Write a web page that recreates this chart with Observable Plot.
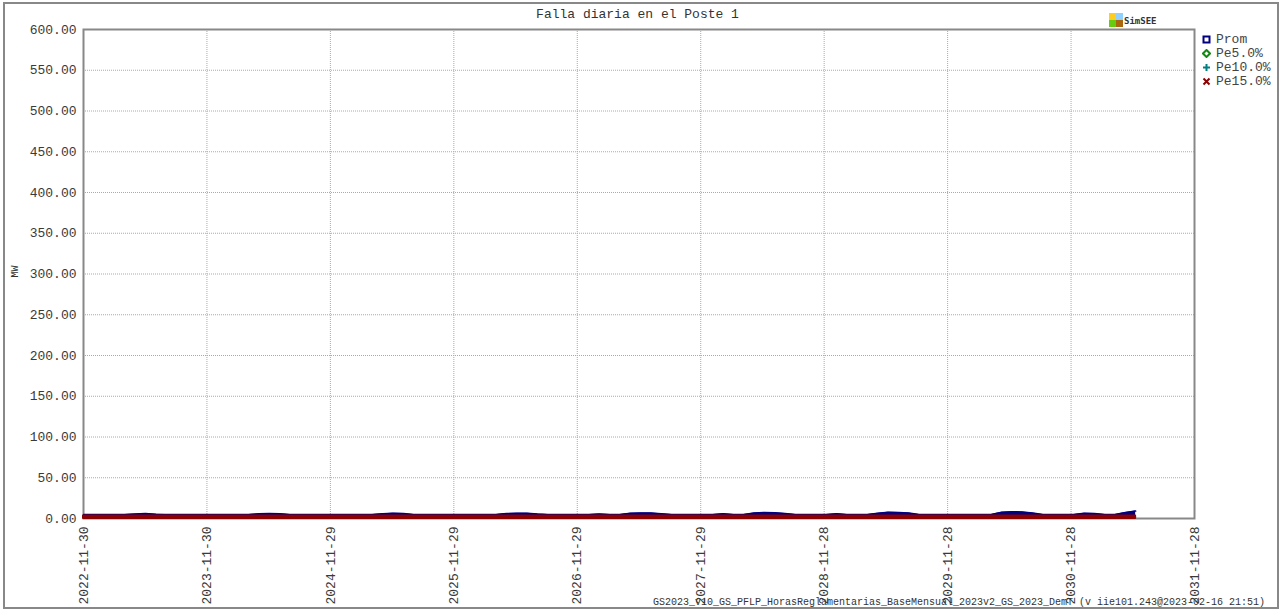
<!DOCTYPE html>
<html>
<head>
<meta charset="utf-8">
<script src="https://cdn.jsdelivr.net/npm/d3@7"></script>
<script src="https://cdn.jsdelivr.net/npm/@observablehq/plot@0.6"></script>
<style>
  html, body { margin: 0; padding: 0; background: #fff; }
  #wrap { position: relative; width: 1281px; height: 610px; overflow: hidden; font-family: "Liberation Mono", "Courier New", monospace; color: #333; }
  #border { position: absolute; left: 3px; top: 2px; width: 1276px; height: 607px; border: 2px solid #888; box-sizing: border-box; pointer-events: none; }
  #chart { position: absolute; left: 0; top: 0; }
  .abs { position: absolute; white-space: nowrap; }
  #title { left: 0; width: 1275px; top: 7px; text-align: center; font-size: 13px; }
  #ylab { left: 9px; top: 266px; font-size: 10px; transform: rotate(-90deg); transform-origin: center; }
  #footer { left: 653px; top: 597px; font-size: 10px; }
  .leg { left: 1202px; font-size: 13px; display: flex; align-items: center; color: #444; }
  .leg svg { margin-right: 5px; }
  #logo { left: 1109px; top: 13px; }
  #logotext { left: 1124px; top: 16px; font-size: 9px; font-weight: bold; font-family: "DejaVu Sans Mono", monospace; }
</style>
</head>
<body>
<div id="wrap">
  <div id="chart"></div>
  <div id="border"></div>
</div>
<script>
// ---- data ----
const title = "Falla diaria en el Poste 1";
const yLabel = "MW";
const footer = "GS2023_v10_GS_PFLP_HorasReglamentarias_BaseMensual_2023v2_GS_2023_DemT (v iie101.243@2023-02-16 21:51)";
const startDate = "2022-11-30";
const endDate = "2031-11-28";
const stepDays = 30.5;
const xTickLabels = ["2022-11-30","2023-11-30","2024-11-29","2025-11-29","2026-11-29","2027-11-29","2028-11-28","2029-11-28","2030-11-28","2031-11-28"];
const yTicks = [0,50,100,150,200,250,300,350,400,450,500,550,600];
const seriesNames = ["Prom","Pe5.0%","Pe10.0%","Pe15.0%"];
const seriesColors = ["#000080","#118811","#008080","#8b0000"];

const prom = [
  5.0,5.0,5.0,5.0,5.0, 5.5,6.1,5.3,
  5.0,5.0,5.0,5.0,5.0,5.0,5.0,5.0,5.0, 5.7,6.2,5.9,
  5.0,5.0,5.0,5.0,5.0,5.0,5.0,5.0,5.0, 5.8,6.3,6.0,
  5.0,5.0,5.0,5.0,5.0,5.0,5.0,5.0,5.0, 6.1,6.4,6.3,5.5,
  5.0,5.0,5.0,5.0,5.0, 5.6, 5.0,5.0, 6.3,6.8,6.6,5.9,
  5.0,5.0,5.0,5.0,5.0, 5.7, 5.0,5.0, 6.7,7.5,7.1,6.0,
  5.0,5.0,5.0,5.0, 5.7, 5.0,5.0,5.0, 6.5,7.7,7.5,6.7,
  5.0,5.0,5.0,5.0,5.0,5.0,5.0,5.0, 7.7,8.3,8.1,6.9,
  5.0,5.0,5.0,5.0, 6.3,6.1, 5.0,5.0, 7.5,9.1
];
const pe5 = [
  2.2,2.2,2.2,2.2,2.2,2.2,2.2,2.2,2.2,2.2,2.2,2.2,
  2.2,2.2,2.2,2.2,2.2,2.2,2.2,2.2,2.2,2.2,2.2,2.2,
  2.2,2.2,2.2,2.2,2.2,2.2,2.2,2.2,2.2,2.2,2.2,2.2,
  2.2,2.2,2.2,2.2,2.2,2.2,2.2,2.2,2.2,2.2,2.2,2.2,
  2.2,2.2,2.2,2.2,2.2,2.2,2.2,2.2,2.2,2.2,2.2,2.2,
  2.2,2.2,2.2,2.2,2.2,2.2,2.2,2.2,2.2,2.2,2.2,2.2,
  2.2,2.2,2.2,2.2,2.2,2.2,2.2,2.2,2.2,2.2,2.2,2.2,
  2.2,2.2,2.2,2.2,2.2,2.2,2.2,2.2,2.2,2.2,2.2,2.2,
  2.2,2.2,2.2,2.2,2.2,2.2,2.2
];
const pe10 = [
  2.6,2.6,2.6,2.6,2.6,2.6,2.6,2.6,2.6,2.6,2.6,2.6,
  2.6,2.6,2.6,2.6,2.6,2.6,2.6,2.6,2.6,2.6,2.6,2.6,
  2.6,2.6,2.6,2.6,2.6,2.6,2.6,2.6,2.6,2.6,2.6,2.6,
  2.6,2.6,2.6,2.6,2.6,2.6,2.6,2.6,2.6,2.6,2.6,2.6,
  2.6,2.6,2.6,2.6,2.6,2.6,2.6,2.6,2.6,2.6,2.6,2.6,
  2.6,2.6,2.6,2.6,2.6,2.6,2.6,2.6,2.6,2.6,2.6,2.6,
  2.6,2.6,2.6,2.6,2.6,2.6,2.6,2.6,2.6,2.6,2.6,2.6,
  2.6,2.6,2.6,2.6,2.6,2.6,2.6,2.6,2.6,2.6,2.6,2.6,
  2.6,2.6,2.6,2.6,2.6,2.6,2.6
];
const pe15 = [
  3.0,3.0,3.0,3.0,3.0,3.0,3.0,3.0,3.0,3.0,3.0,3.0,
  3.0,3.0,3.0,3.0,3.0,3.0,3.0,3.0,3.0,3.0,3.0,3.0,
  3.0,3.0,3.0,3.0,3.0,3.0,3.0,3.0,3.0,3.0,3.0,3.0,
  3.0,3.0,3.0,3.0,3.0,3.0,3.0,3.0,3.0,3.0,3.0,3.0,
  3.0,3.0,3.0,3.0,3.0,3.0,3.0,3.0,3.0,3.0,3.0,3.0,
  3.0,3.0,3.0,3.0,3.0,3.0,3.0,3.0,3.0,3.0,3.0,3.0,
  3.0,3.0,3.0,3.0,3.0,3.0,3.0,3.0,3.0,3.0,3.0,3.0,
  3.0,3.0,3.0,3.0,3.0,3.0,3.0,3.0,3.0,3.0,3.0,3.0,
  3.0,3.0,3.0,3.0,3.0,3.0,3.0
];

// ---- build table ----
const start = new Date(startDate + "T00:00:00Z");
const end = new Date(endDate + "T00:00:00Z");
const xTicks = xTickLabels.map(s => new Date(s + "T00:00:00Z"));
const data = prom.map((v, i) => ({
  date: d3.utcDay.offset(start, Math.round(i * stepDays)),
  prom: v, pe5: pe5[i], pe10: pe10[i], pe15: pe15[i]
}));

const grid = {stroke: "#aaa", strokeDasharray: "1,1", strokeWidth: 1};

const chart = Plot.plot({
  width: 1281,
  height: 610,
  marginLeft: 83,
  marginRight: 87,
  marginTop: 29,
  marginBottom: 92,
  style: {fontFamily: "'Liberation Mono', 'Courier New', monospace", fontSize: "13px", color: "#3a3a3a", background: "transparent", overflow: "visible"},
  x: {type: "utc", domain: [start, end]},
  y: {domain: [0, 600]},
  marks: [
    Plot.ruleX(xTicks, {x: d => d, ...grid}),
    Plot.ruleY(yTicks, {y: d => d, ...grid}),
    Plot.frame({stroke: "#888", strokeWidth: 2}),
    Plot.areaY(data, {x: "date", y: "prom", fill: seriesColors[0]}),
    Plot.lineY(data, {x: "date", y: "prom", stroke: seriesColors[0], strokeWidth: 1.5}),
    Plot.areaY(data, {x: "date", y: "pe5", fill: seriesColors[1]}),
    Plot.areaY(data, {x: "date", y: "pe10", fill: seriesColors[2]}),
    Plot.areaY(data, {x: "date", y: "pe15", fill: seriesColors[3], stroke: seriesColors[3], strokeWidth: 2}),
    Plot.axisX({ticks: xTicks, tickFormat: d3.utcFormat("%Y-%m-%d"), tickRotate: -90, tickSize: 0, tickPadding: 8, label: null}),
    Plot.axisY({ticks: yTicks, tickFormat: d => d.toFixed(2), tickSize: 0, tickPadding: 7, label: null})
  ]
});
document.getElementById("chart").appendChild(chart);

// ---- overlay texts ----
const wrap = document.getElementById("wrap");
function addDiv(id, cls, text, css) {
  const d = document.createElement("div");
  if (id) d.id = id;
  d.className = cls;
  if (text != null) d.textContent = text;
  if (css) Object.assign(d.style, css);
  wrap.appendChild(d);
  return d;
}
addDiv("title", "abs", title);
addDiv("ylab", "abs", yLabel);
addDiv("footer", "abs", footer);

// logo
const logo = addDiv("logo", "abs", null);
logo.innerHTML = '<svg width="14" height="14"><rect x="0" y="0" width="7" height="7" fill="#ffcc22"/><rect x="7" y="0" width="7" height="7" fill="#8fd0ff"/><rect x="0" y="7" width="7" height="7" fill="#66cc11"/><rect x="7" y="7" width="7" height="7" fill="#a8660f"/></svg>';
addDiv("logotext", "abs", "SimSEE");

// legend
const markerSvgs = [
  '<rect x="1.5" y="1.5" width="6" height="6" fill="none" stroke="' + seriesColors[0] + '" stroke-width="2"/>',
  '<path d="M4.5 1 L8 4.5 L4.5 8 L1 4.5 Z" fill="none" stroke="' + seriesColors[1] + '" stroke-width="2"/>',
  '<path d="M4.5 1 V8 M1 4.5 H8" stroke="' + seriesColors[2] + '" stroke-width="2"/>',
  '<path d="M1.5 1.5 L7.5 7.5 M7.5 1.5 L1.5 7.5" stroke="' + seriesColors[3] + '" stroke-width="2"/>'
];
seriesNames.forEach((name, i) => {
  const d = addDiv(null, "abs leg", null, {top: (32 + i * 14) + "px"});
  d.innerHTML = '<svg width="9" height="9">' + markerSvgs[i] + '</svg><span>' + name + '</span>';
});
</script>
</body>
</html>
